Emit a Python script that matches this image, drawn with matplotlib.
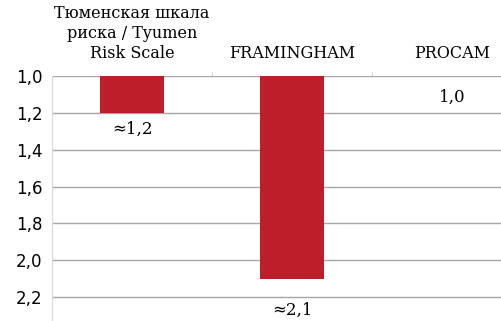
import matplotlib
matplotlib.use("Agg")
import matplotlib.pyplot as plt

categories = ["Тюменская шкала\nриска / Tyumen\nRisk Scale", "FRAMINGHAM", "PROCAM"]
values = [1.2, 2.1, 1.0]
value_labels = ["≈1,2", "≈2,1", "1,0"]
base = 1.0
yticks = [1.0, 1.2, 1.4, 1.6, 1.8, 2.0, 2.2]

BAR_COLOR = "#be1e2a"
GRID_COLOR = "#a6a6a6"
SERIF = "DejaVu Serif"

fig = plt.figure(figsize=(5.02, 3.21), dpi=100)
ax = fig.add_axes([52 / 502, 0.0, 1 - 52 / 502, 1 - 76 / 321])

x = list(range(len(categories)))
heights = [v - base for v in values]
ax.bar(x, heights, bottom=base, width=0.4, color=BAR_COLOR, zorder=3)

# value labels sit below the end of each bar (offsets in points)
label_offsets = [12, 23, 15.5]
for xi, v, lab, off in zip(x, values, value_labels, label_offsets):
    ax.annotate(lab, (xi, v), xytext=(0, -off), textcoords="offset points",
                ha="center", va="center", fontsize=12, family=SERIF)

ax.set_xlim(-0.5, 2.31)
ax.set_ylim(2.33, base)
ax.set_yticks(yticks)
ax.set_yticklabels([f"{t:.1f}".replace(".", ",") for t in yticks],
                   fontsize=12, family="DejaVu Sans")
ax.tick_params(axis="y", length=0, pad=7)
ax.yaxis.grid(True, color=GRID_COLOR, linewidth=1.0, zorder=0)

# category labels on top, small tick marks between categories
ax.xaxis.tick_top()
ax.set_xticks(x)
ax.set_xticklabels(categories, fontsize=11.5, family=SERIF, linespacing=1.25)
ax.set_xticks([0.5, 1.5], minor=True)
ax.tick_params(axis="x", which="major", length=0, pad=10)
ax.tick_params(axis="x", which="minor", length=3, color="#c8c8c8", top=True, bottom=False)

for side in ["top", "right", "bottom"]:
    ax.spines[side].set_visible(False)
ax.spines["left"].set_color("#d9d9d9")

fig.savefig("out.png", dpi=100)
